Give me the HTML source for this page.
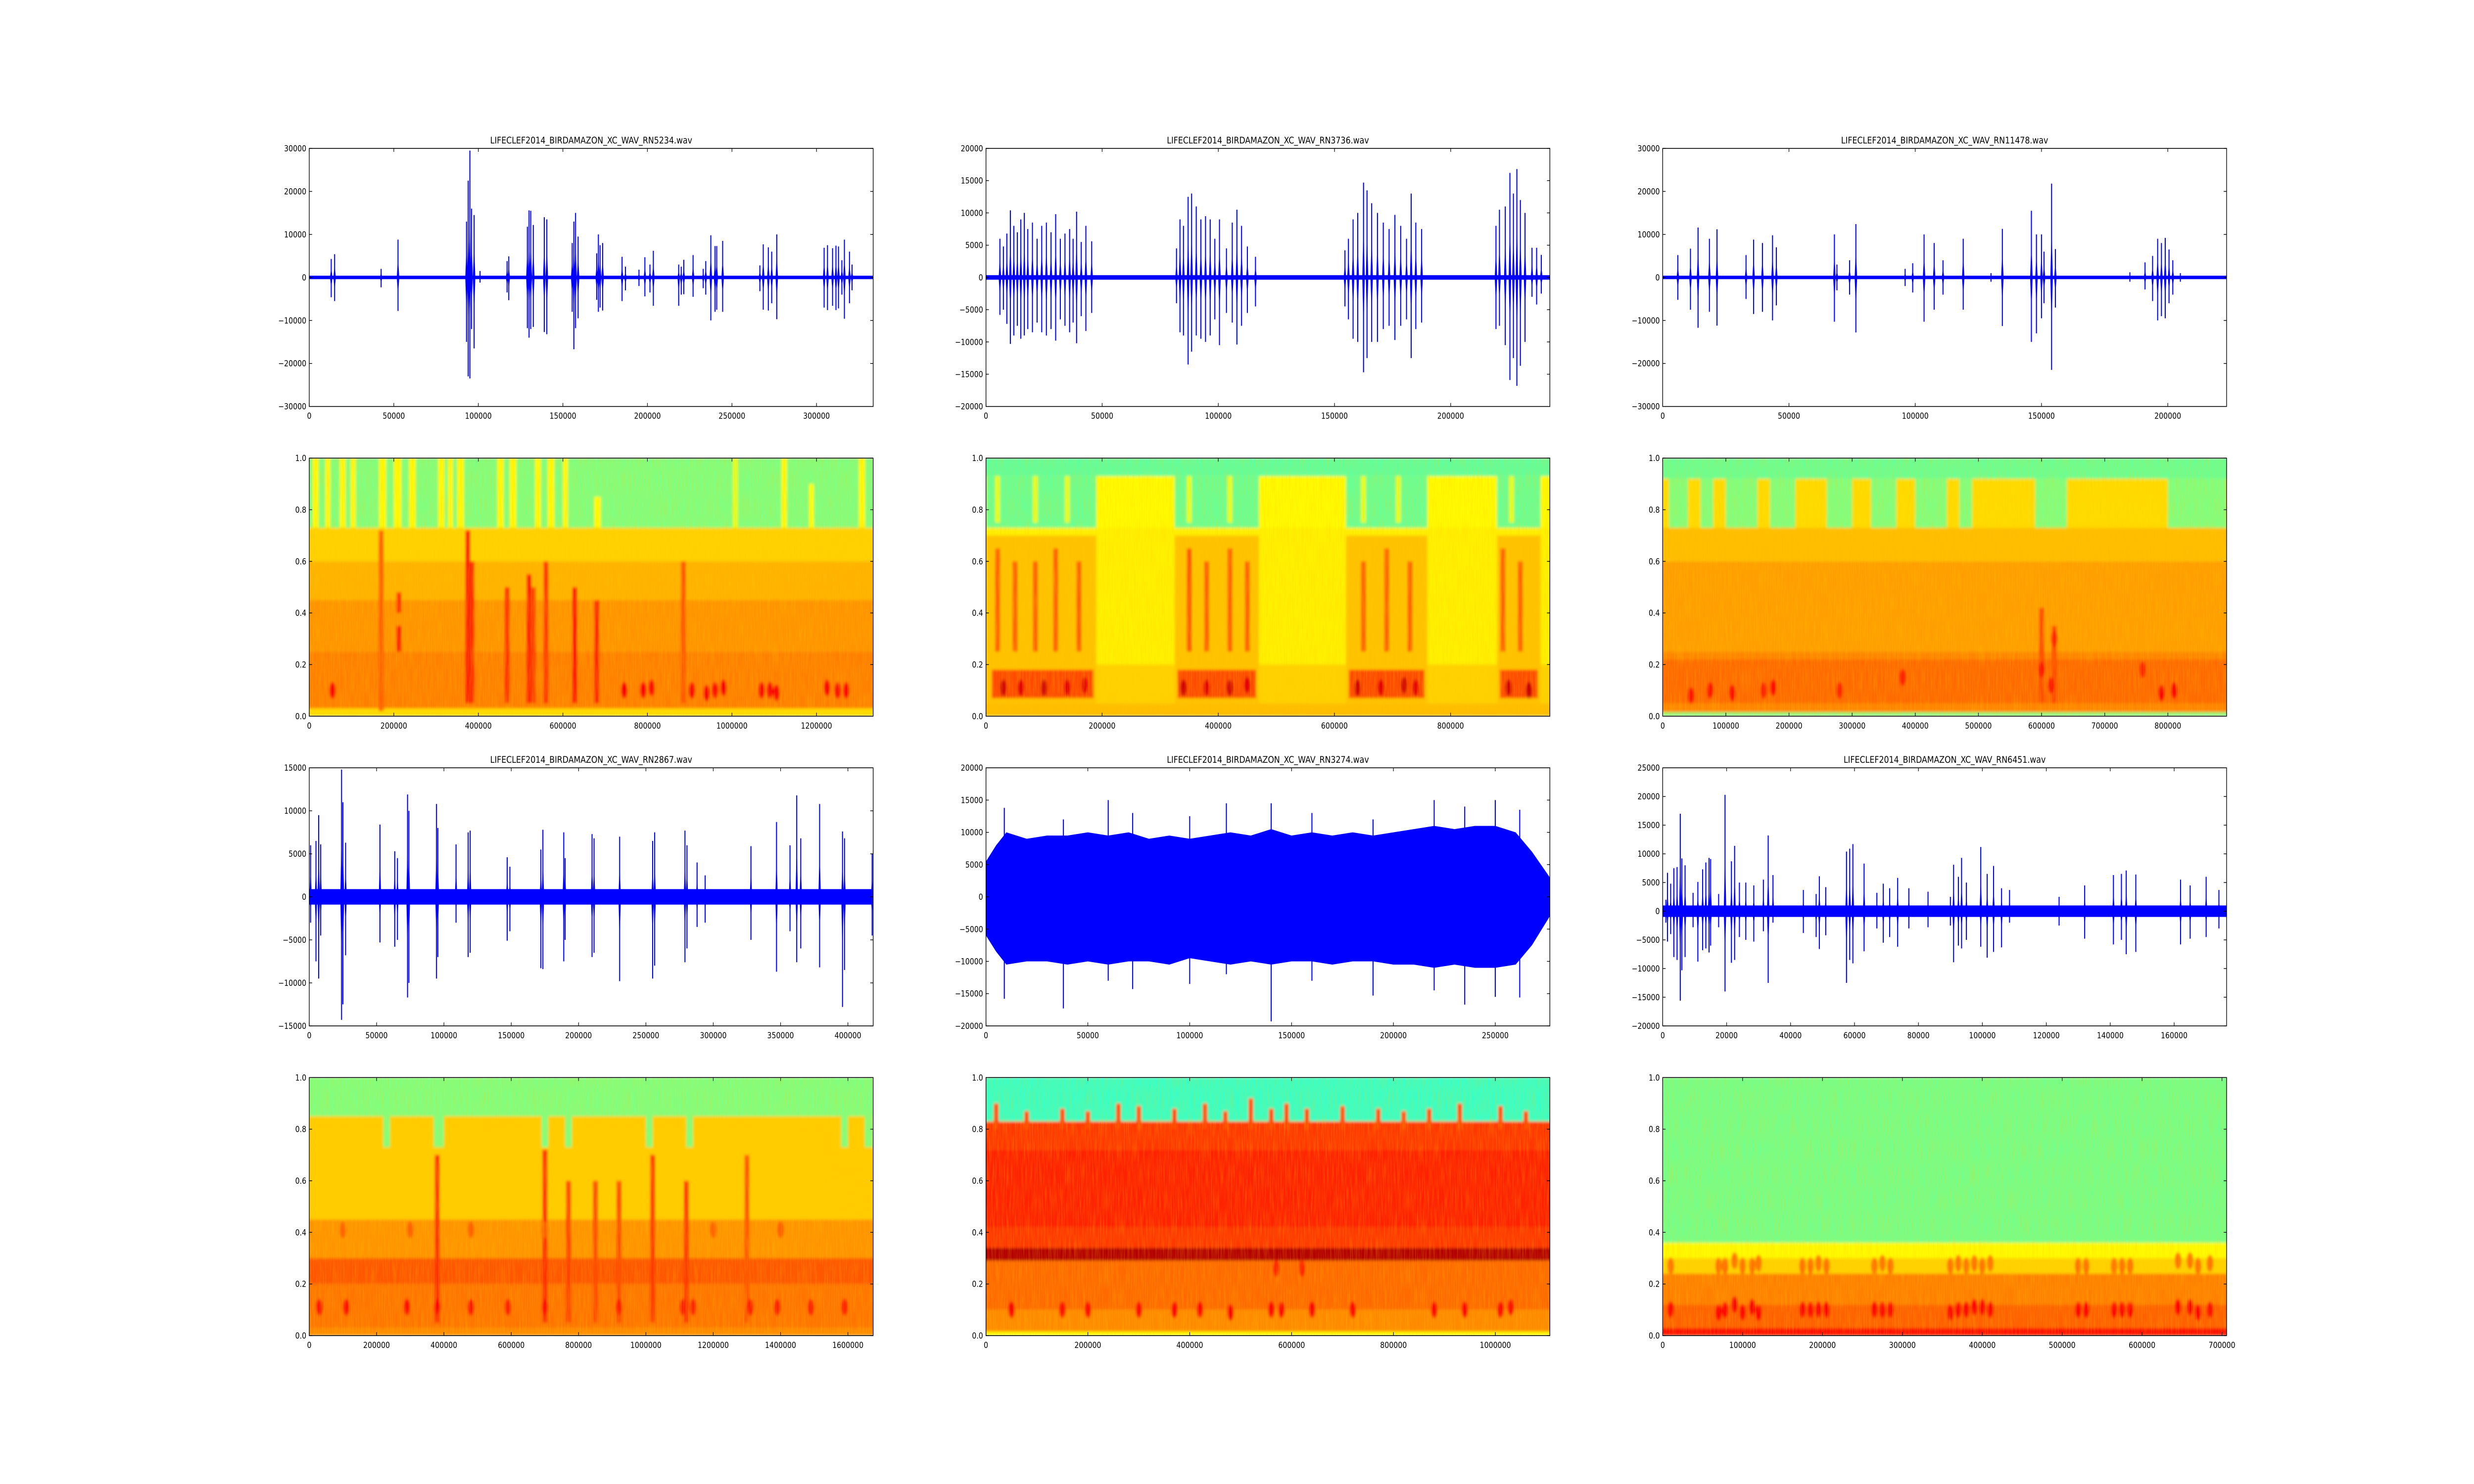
<!DOCTYPE html>
<html><head><meta charset="utf-8">
<style>
html,body{margin:0;padding:0;background:#fff;overflow:hidden;width:100%;height:100%;}
svg{display:block;width:100vw;height:100vh;}
text{font-family:"DejaVu Sans","Liberation Sans",sans-serif;fill:#000;}
</style></head>
<body>
<svg id="fig" viewBox="0 0 6000 3000" preserveAspectRatio="none" xmlns="http://www.w3.org/2000/svg">
<defs>
<filter id="soft" x="-5%" y="-5%" width="110%" height="110%"><feGaussianBlur stdDeviation="3"/></filter>
<filter id="grain" x="0" y="0" width="100%" height="100%">
<feTurbulence type="fractalNoise" baseFrequency="0.35 0.02" numOctaves="2" seed="3" result="n"/>
<feColorMatrix type="matrix" values="0 0 0 0 1  0 0 0 0 0.6  0 0 0 0 0  0 0 0 -1.2 0.75"/>
</filter>
</defs>
<rect x="0" y="0" width="6000" height="3000" fill="#fff"/>
</svg>
<script>
// ---------------- DATA ----------------
const waveTitles = ["LIFECLEF2014_BIRDAMAZON_XC_WAV_RN5234.wav","LIFECLEF2014_BIRDAMAZON_XC_WAV_RN3736.wav","LIFECLEF2014_BIRDAMAZON_XC_WAV_RN11478.wav","LIFECLEF2014_BIRDAMAZON_XC_WAV_RN2867.wav","LIFECLEF2014_BIRDAMAZON_XC_WAV_RN3274.wav","LIFECLEF2014_BIRDAMAZON_XC_WAV_RN6451.wav"];
const waveXMax = [333500, 242700, 223300, 418750, 276800, 176400];
const waveYMin = [-30000, -20000, -30000, -15000, -20000, -20000];
const waveYMax = [30000, 20000, 30000, 15000, 20000, 25000];
const waveXTicks = [
 [0,50000,100000,150000,200000,250000,300000],
 [0,50000,100000,150000,200000],
 [0,50000,100000,150000,200000],
 [0,50000,100000,150000,200000,250000,300000,350000,400000],
 [0,50000,100000,150000,200000,250000],
 [0,20000,40000,60000,80000,100000,120000,140000,160000]];
const waveYTicks = [
 [-30000,-20000,-10000,0,10000,20000,30000],
 [-20000,-15000,-10000,-5000,0,5000,10000,15000,20000],
 [-30000,-20000,-10000,0,10000,20000,30000],
 [-15000,-10000,-5000,0,5000,10000,15000],
 [-20000,-15000,-10000,-5000,0,5000,10000,15000,20000],
 [-20000,-15000,-10000,-5000,0,5000,10000,15000,20000,25000]];
const waveBase = [400, 350, 400, 900, 0, 1000];

const bursts1 = [[13000,4300,-4600],[15000,5400,-5500],[42500,2000,-2300],[52500,8800,-7800],[93000,13000,-15000],[94000,22500,-23000],[95000,29500,-23500],[96000,16000,-12000],[97500,14500,-16500],[101000,1500,-1200],[117000,3800,-3500],[118000,4900,-5300],[129000,11800,-11800],[130000,15600,-14000],[131000,15500,-12000],[132500,12200,-11500],[139000,14000,-12700],[140500,13500,-13200],[155500,8000,-8000],[156500,13000,-16700],[157500,15000,-11800],[159000,9500,-9500],[170000,5600,-5200],[171000,10000,-8000],[172000,7500,-7000],[173500,8000,-7700],[185000,4800,-5500],[187000,2500,-3000],[195000,1800,-2000],[198500,4700,-4400],[201500,3000,-3500],[203500,6200,-6600],[218500,3000,-6600],[220000,2500,-4000],[221500,4100,-3900],[227000,5200,-4500],[233000,2000,-2500],[234500,3800,-4000],[237500,9800,-10000],[240000,7300,-8000],[241000,7300,-7500],[244500,8500,-8000],[266500,2800,-3200],[268500,7700,-7500],[271500,7000,-7700],[273500,6000,-6000],[276500,10000,-9700],[304500,6900,-7000],[306500,7500,-7600],[309500,6800,-6600],[311500,7400,-7600],[313000,7200,-7200],[315000,4000,-4000],[316500,8800,-9600],[319500,6000,-6000],[321000,3000,-3000]];
const bursts2 = [[6000,6000,-5800],[7500,4800,-5000],[9000,6800,-7200],[10500,10400,-10300],[12000,8000,-9000],[13500,7000,-7500],[15000,9000,-9500],[16500,10000,-9000],[18000,7500,-8000],[20000,8500,-8500],[22000,6000,-7000],[24000,8000,-8500],[26000,8500,-9000],[28000,7000,-8000],[30000,9800,-9800],[32000,6000,-6500],[34000,6800,-7500],[36000,7500,-8500],[37500,6000,-7000],[39000,10200,-10200],[41000,5500,-6000],[43000,8000,-8300],[45500,5600,-5500],[82000,4500,-4000],[83500,9000,-8500],[85000,8000,-9000],[87000,12500,-13500],[88500,13000,-11500],[90500,11000,-9000],[92500,9000,-9500],[94500,9500,-10000],[96500,9000,-9000],[98500,6000,-6500],[100500,9000,-10500],[103500,4500,-5500],[106000,8500,-7000],[108000,10500,-10400],[110000,8000,-7500],[112500,4800,-5500],[116000,3200,-4500],[154500,4200,-4500],[156000,6000,-6500],[158000,9000,-9500],[160000,10000,-10000],[162500,14700,-14700],[164000,13500,-12500],[166000,11500,-10000],[168500,10000,-10000],[171000,8500,-8000],[173500,7500,-7500],[176000,9700,-9700],[178500,8000,-7500],[181000,6000,-6500],[183000,13000,-12500],[185000,8500,-8000],[187500,7500,-7000],[219500,8000,-8000],[221000,10500,-7500],[223500,11000,-10500],[225500,16200,-15900],[227000,13000,-12500],[228500,16800,-16800],[230000,12000,-13700],[232000,10000,-10000],[235000,4600,-3000],[237000,4600,-4200],[239000,3500,-2500]];
const bursts3 = [[6000,5200,-5200],[11000,6700,-7500],[14000,11600,-11700],[18500,9000,-8000],[21500,11200,-11200],[33000,5200,-5000],[36000,8800,-8500],[39500,8000,-8000],[43500,9800,-10000],[45000,7000,-6500],[68000,10000,-10300],[69000,3000,-3000],[74000,4000,-4000],[76500,12400,-12800],[96000,2000,-2000],[99000,3300,-3500],[103500,10000,-10300],[107500,8000,-7500],[111000,4000,-4000],[119000,9000,-7500],[130000,1000,-1000],[134500,11300,-11300],[146000,15500,-15000],[148000,10000,-13000],[150000,10000,-9500],[151000,6000,-6000],[154000,21800,-21500],[155500,6600,-7000],[185000,1200,-1000],[191000,3500,-2800],[194000,5000,-5500],[196000,9000,-10000],[197500,8000,-9000],[199000,9200,-9500],[200500,6500,-6000],[202000,4000,-4000],[205000,1000,-1000]];
const bursts4 = [[1000,6000,-3000],[5000,6500,-7500],[7000,9500,-9500],[8500,6100,-4500],[24000,14800,-14300],[25000,11000,-12500],[27000,6300,-6800],[52500,8400,-5300],[63500,5300,-5800],[65500,4500,-5000],[73000,11900,-11700],[74000,10000,-10000],[94500,10800,-9500],[95500,8000,-7000],[109000,6100,-3000],[118000,7500,-7000],[119500,7700,-6500],[147000,4600,-5100],[149000,3500,-4000],[172000,5500,-8300],[173500,7800,-8400],[189000,7500,-7500],[190000,4500,-5000],[210000,7300,-7000],[211500,6800,-6500],[230500,7000,-9800],[255000,6500,-9500],[256500,7500,-8000],[279000,7700,-7600],[280500,6000,-6000],[288000,4000,-3500],[294000,2500,-3000],[328000,5900,-5000],[347000,8700,-8700],[357000,6000,-4000],[362000,11800,-7600],[365000,6800,-6000],[379000,10800,-8200],[396000,7600,-12800],[397500,6800,-8500],[418000,5000,-4500]];
const bursts5 = [[9000,13800,-15800],[38000,12000,-17300],[60000,15000,-13000],[72000,13000,-14300],[100000,12500,-13500],[118000,14500,-12000],[140000,14500,-19300],[160000,13000,-13000],[190000,12000,-15300],[220000,15000,-14500],[235000,14000,-16700],[250000,15000,-15500],[262000,13500,-15600]];
const bursts6 = [[1000,2000,-2000],[1500,6700,-5300],[2500,4800,-4000],[3500,7500,-8000],[4500,7700,-8500],[5500,17000,-15600],[6000,9200,-10300],[7000,8000,-8000],[9500,3200,-2800],[11000,5100,-8800],[12500,7300,-6800],[13500,8500,-6500],[14500,9300,-7200],[15000,9100,-6000],[17500,3000,-2800],[19500,20300,-14000],[21500,8700,-9000],[22500,11400,-8500],[24000,5000,-4500],[26000,5000,-5000],[28500,4500,-5300],[31500,5500,-3500],[33000,13200,-12500],[34500,6300,-2000],[44000,3700,-3800],[48000,3000,-4500],[49000,6100,-6600],[51000,4200,-4200],[57500,10400,-12500],[58500,10900,-8500],[59500,11700,-9100],[63000,8300,-7000],[67000,3200,-3000],[69000,4800,-5500],[71000,4000,-4500],[73500,5800,-6200],[77000,4000,-3000],[83000,3400,-2800],[90000,2500,-2500],[91000,8100,-8900],[92500,6000,-6000],[93500,9300,-6500],[95000,5000,-5000],[99500,11200,-6200],[101500,6500,-8100],[103500,7900,-7100],[106000,4000,-6300],[108500,3700,-2000],[124000,2500,-2500],[132000,4500,-4800],[141000,6300,-5800],[143500,6500,-5000],[145000,7100,-7500],[148000,6400,-7100],[162000,5500,-5800],[165000,4500,-4800],[170000,6000,-4500],[174000,3700,-3000]];
const waveBursts = [bursts1,bursts2,bursts3,bursts4,bursts5,bursts6];

const env5X = [0,5000,10000,20000,30000,40000,50000,60000,70000,80000,90000,100000,110000,120000,130000,140000,150000,160000,170000,180000,190000,200000,210000,220000,230000,240000,250000,260000,268000,276800];
const env5Up = [5500,8000,10000,9000,9500,9500,10000,9500,10000,9000,9500,9000,9500,10000,9500,10500,9500,10000,9500,10000,9500,10000,10500,11000,10500,11000,11000,10000,7000,3000];
const env5Lo = [-6000,-8500,-10500,-10000,-10000,-10500,-10000,-10500,-10000,-10000,-10500,-9500,-10000,-10500,-10000,-10500,-10000,-10000,-10500,-10000,-10000,-10500,-10500,-11000,-10500,-11000,-11000,-10500,-7500,-3000];

const specXMax = [1334000, 971000, 893000, 1675000, 1107000, 705800];
const specXTicks = [
 [0,200000,400000,600000,800000,1000000,1200000],
 [0,200000,400000,600000,800000],
 [0,100000,200000,300000,400000,500000,600000,700000,800000],
 [0,200000,400000,600000,800000,1000000,1200000,1400000,1600000],
 [0,200000,400000,600000,800000,1000000],
 [0,100000,200000,300000,400000,500000,600000,700000]];
const specYTicks = [0,0.2,0.4,0.6,0.8,1.0];
const specYTickLabels = ["0.0","0.2","0.4","0.6","0.8","1.0"];

const specBands = [
 [[0,0.03,0.66],[0.03,0.25,0.75],[0.25,0.45,0.73],[0.45,0.6,0.7],[0.6,0.73,0.67],[0.73,1.0,0.5]],
 [[0,0.05,0.69],[0.05,0.2,0.67],[0.2,0.73,0.64],[0.73,0.93,0.63],[0.93,1,0.47]],
 [[0,0.015,0.5],[0.015,0.25,0.745],[0.25,0.6,0.72],[0.6,0.73,0.69],[0.73,0.92,0.66],[0.92,1,0.48]],
 [[0,0.03,0.74],[0.03,0.2,0.76],[0.2,0.3,0.79],[0.3,0.45,0.73],[0.45,0.85,0.675],[0.85,1,0.5]],
 [[0,0.015,0.62],[0.015,0.1,0.74],[0.1,0.29,0.77],[0.29,0.34,0.95],[0.34,0.42,0.82],[0.42,0.72,0.84],[0.72,0.83,0.82],[0.83,1,0.43]],
 [[0,0.03,0.86],[0.03,0.12,0.78],[0.12,0.24,0.75],[0.24,0.3,0.67],[0.3,0.36,0.63],[0.36,1,0.49]]];
const specPatches = [
 [[8000,22000,0.73,1,0.63],[38000,50000,0.73,1,0.63],[72000,86000,0.73,1,0.63],[98000,110000,0.73,1,0.63],[165000,182000,0.73,1,0.63],[200000,218000,0.73,1,0.63],[236000,252000,0.73,1,0.63],[305000,320000,0.73,1,0.63],[328000,340000,0.73,1,0.63],[350000,366000,0.73,1,0.63],[445000,460000,0.73,1,0.63],[474000,490000,0.73,1,0.63],[534000,548000,0.73,1,0.63],[564000,580000,0.73,1,0.63],[600000,612000,0.73,1,0.63],[674000,690000,0.73,0.85,0.63],[1002000,1014000,0.73,1,0.6],[1117000,1130000,0.73,1,0.63],[1182000,1194000,0.73,0.9,0.62],[1300000,1315000,0.73,1,0.63]],
 [[0,190000,0.73,0.93,0.48],[325000,470000,0.73,0.93,0.48],[620000,760000,0.73,0.93,0.48],[880000,955000,0.73,0.93,0.48],[0,190000,0.05,0.7,0.685],[325000,470000,0.05,0.7,0.685],[620000,760000,0.05,0.7,0.685],[880000,955000,0.05,0.7,0.685],[10000,185000,0.07,0.18,0.8],[330000,465000,0.07,0.18,0.8],[625000,755000,0.07,0.18,0.8],[885000,950000,0.07,0.18,0.8]],
 [[10000,40000,0.73,0.92,0.5],[60000,80000,0.73,0.92,0.5],[100000,150000,0.73,0.92,0.5],[170000,210000,0.73,0.92,0.5],[260000,300000,0.73,0.92,0.5],[330000,370000,0.73,0.92,0.5],[400000,450000,0.73,0.92,0.5],[470000,490000,0.73,0.92,0.5],[590000,640000,0.73,0.92,0.5],[800000,893000,0.73,0.92,0.5],[0,893000,0.05,0.22,0.77]],
 [[220000,240000,0.73,0.85,0.5],[370000,400000,0.73,0.85,0.5],[690000,710000,0.73,0.85,0.5],[760000,780000,0.73,0.85,0.5],[1000000,1020000,0.73,0.85,0.5],[1120000,1140000,0.73,0.85,0.5],[1580000,1600000,0.73,0.85,0.5],[1650000,1675000,0.73,0.85,0.5]],
 [],
 []];
const specStreaks = [
 [[375000,0.05,0.72,0.85],[385000,0.05,0.6,0.83],[468000,0.05,0.5,0.83],[520000,0.05,0.55,0.85],[530000,0.05,0.5,0.81],[560000,0.05,0.6,0.82],[628000,0.05,0.5,0.86],[680000,0.05,0.45,0.84],[885000,0.05,0.6,0.79],[212000,0.25,0.35,0.85],[212000,0.4,0.48,0.83],[170000,0.02,0.72,0.78]],
 [[20000,0.25,0.65,0.78],[50000,0.25,0.6,0.78],[85000,0.25,0.6,0.78],[120000,0.25,0.65,0.78],[160000,0.25,0.6,0.78],[350000,0.25,0.65,0.79],[380000,0.25,0.6,0.78],[420000,0.25,0.65,0.78],[450000,0.25,0.6,0.78],[650000,0.25,0.6,0.78],[690000,0.25,0.65,0.78],[730000,0.25,0.6,0.78],[890000,0.25,0.65,0.78],[920000,0.25,0.6,0.78],[20000,0.75,0.93,0.6],[85000,0.75,0.93,0.6],[140000,0.75,0.93,0.6],[350000,0.75,0.93,0.6],[420000,0.75,0.93,0.6],[650000,0.75,0.93,0.6],[710000,0.75,0.93,0.6],[905000,0.75,0.93,0.6]],
 [[600000,0.05,0.42,0.8],[620000,0.05,0.35,0.8]],
 [[380000,0.05,0.7,0.83],[700000,0.05,0.72,0.83],[770000,0.05,0.6,0.81],[850000,0.05,0.6,0.8],[920000,0.05,0.6,0.8],[1020000,0.05,0.7,0.82],[1120000,0.05,0.6,0.82],[1300000,0.05,0.7,0.79]],
 [[20000,0.8,0.9,0.8],[80000,0.8,0.87,0.8],[150000,0.8,0.88,0.8],[200000,0.8,0.87,0.8],[260000,0.8,0.9,0.8],[300000,0.8,0.89,0.8],[370000,0.8,0.88,0.8],[430000,0.8,0.9,0.8],[470000,0.8,0.87,0.8],[520000,0.8,0.92,0.8],[560000,0.8,0.88,0.8],[590000,0.8,0.9,0.8],[630000,0.8,0.88,0.8],[700000,0.8,0.89,0.8],[770000,0.8,0.88,0.8],[820000,0.8,0.87,0.8],[870000,0.8,0.88,0.8],[930000,0.8,0.9,0.8],[1010000,0.8,0.89,0.8],[1060000,0.8,0.87,0.8]],
 []];
const specBlobs = [
 [[55000,0.1,0.87],[745000,0.1,0.88],[790000,0.1,0.87],[810000,0.11,0.87],[905000,0.1,0.88],[940000,0.09,0.88],[960000,0.1,0.87],[980000,0.11,0.88],[1070000,0.1,0.88],[1090000,0.1,0.88],[1105000,0.09,0.88],[1225000,0.11,0.88],[1250000,0.1,0.88],[1270000,0.1,0.87]],
 [[30000,0.11,0.92],[60000,0.11,0.9],[100000,0.11,0.92],[140000,0.11,0.9],[170000,0.12,0.9],[340000,0.11,0.92],[380000,0.11,0.9],[420000,0.11,0.92],[450000,0.12,0.9],[640000,0.11,0.92],[680000,0.11,0.9],[720000,0.12,0.92],[740000,0.11,0.9],[900000,0.11,0.92],[935000,0.1,0.93]],
 [[45000,0.08,0.86],[75000,0.1,0.86],[110000,0.09,0.86],[160000,0.1,0.85],[175000,0.11,0.86],[280000,0.1,0.84],[380000,0.15,0.84],[600000,0.18,0.86],[615000,0.12,0.86],[620000,0.3,0.84],[760000,0.18,0.84],[790000,0.09,0.88],[810000,0.1,0.88]],
 [[30000,0.11,0.86],[110000,0.11,0.86],[290000,0.11,0.86],[380000,0.11,0.87],[480000,0.11,0.86],[590000,0.11,0.85],[700000,0.11,0.86],[920000,0.11,0.85],[1110000,0.11,0.85],[1140000,0.11,0.84],[1310000,0.11,0.85],[1390000,0.11,0.85],[1490000,0.11,0.85],[1590000,0.11,0.85],[100000,0.41,0.78],[300000,0.41,0.78],[480000,0.41,0.78],[700000,0.41,0.78],[1200000,0.41,0.78],[1400000,0.41,0.78]],
 [[50000,0.1,0.88],[150000,0.1,0.87],[200000,0.1,0.87],[300000,0.1,0.87],[370000,0.1,0.87],[420000,0.1,0.87],[480000,0.09,0.88],[560000,0.1,0.87],[580000,0.1,0.87],[640000,0.1,0.87],[720000,0.1,0.87],[880000,0.1,0.87],[940000,0.1,0.87],[1010000,0.1,0.88],[1030000,0.11,0.87],[570000,0.26,0.84],[620000,0.26,0.84]],
 [[10000,0.27,0.76],[70000,0.27,0.76],[78000,0.27,0.76],[90000,0.29,0.76],[100000,0.27,0.76],[112000,0.27,0.76],[120000,0.28,0.76],[175000,0.27,0.76],[185000,0.27,0.76],[195000,0.28,0.76],[205000,0.27,0.76],[265000,0.27,0.76],[275000,0.28,0.76],[285000,0.27,0.76],[360000,0.27,0.76],[370000,0.28,0.76],[380000,0.27,0.76],[390000,0.28,0.76],[400000,0.27,0.76],[410000,0.28,0.76],[520000,0.27,0.76],[530000,0.27,0.76],[565000,0.27,0.76],[575000,0.27,0.76],[585000,0.27,0.76],[645000,0.29,0.76],[660000,0.29,0.76],[670000,0.27,0.76],[685000,0.28,0.76],
  [10000,0.1,0.87],[70000,0.09,0.87],[78000,0.1,0.87],[90000,0.12,0.88],[100000,0.09,0.87],[112000,0.11,0.88],[120000,0.09,0.87],[175000,0.1,0.87],[185000,0.1,0.87],[195000,0.1,0.87],[205000,0.1,0.87],[265000,0.1,0.87],[275000,0.1,0.87],[285000,0.1,0.87],[360000,0.09,0.87],[370000,0.1,0.87],[380000,0.1,0.88],[390000,0.11,0.87],[400000,0.11,0.88],[410000,0.1,0.87],[520000,0.1,0.87],[530000,0.1,0.87],[565000,0.1,0.87],[575000,0.1,0.87],[585000,0.1,0.87],[645000,0.11,0.87],[660000,0.11,0.88],[670000,0.09,0.87],[685000,0.1,0.87]]];

// ---------------- LAYOUT ----------------
const NS = "http://www.w3.org/2000/svg";
const svg = document.getElementById('fig');
const colX = [[750,2117.6],[2391.2,3758.8],[4032.4,5400]];
const rowY = [[300,821.7],[926.1,1447.8],[1552.2,2073.9],[2178.3,2700]];

function mk(tag, attrs, parent){
  const e = document.createElementNS(NS, tag);
  for (const k in attrs) e.setAttribute(k, attrs[k]);
  (parent||svg).appendChild(e);
  return e;
}
function fmt(v){ return v < 0 ? "\u2212" + Math.abs(v) : String(v); }
function jet(v){
  const c = t => Math.max(0, Math.min(1, t));
  const r = c(1.5 - Math.abs(4*v-3)), g = c(1.5 - Math.abs(4*v-2)), b = c(1.5 - Math.abs(4*v-1));
  return "rgb(" + Math.round(r*255) + "," + Math.round(g*255) + "," + Math.round(b*255) + ")";
}
function makeScale(d0, d1, r0, r1){ return v => r0 + (v - d0) / (d1 - d0) * (r1 - r0); }

function drawAxes(g, x0, x1, y0, y1, sx, sy, xticks, yticks, ylabels, name){
  mk('rect', {x:x0, y:y0, width:x1-x0, height:y1-y0, fill:'none', stroke:'#000', 'stroke-width':1.6,  }, g);
  const tg = mk('g', { }, g);
  xticks.forEach(t => {
    const x = sx(t);
    mk('line', {x1:x, y1:y1, x2:x, y2:y1-7, stroke:'#000', 'stroke-width':1.4}, tg);
    mk('line', {x1:x, y1:y0, x2:x, y2:y0+7, stroke:'#000', 'stroke-width':1.4}, tg);
    const tx = mk('text', {x:x, y:y1+25, 'font-size':17, 'text-anchor':'middle'}, tg);
    
    
    tx.textContent = fmt(t);
  });
  yticks.forEach((t, i) => {
    const y = sy(t);
    mk('line', {x1:x0, y1:y, x2:x0+7, y2:y, stroke:'#000', 'stroke-width':1.4}, tg);
    mk('line', {x1:x1, y1:y, x2:x1-7, y2:y, stroke:'#000', 'stroke-width':1.4}, tg);
    const tx = mk('text', {x:x0-7, y:y+6, 'font-size':17, 'text-anchor':'end'}, tg);
    
    
    tx.textContent = ylabels ? ylabels[i] : fmt(t);
  });
}

for (let i = 0; i < 6; i++){
  const row = i < 3 ? 0 : 2, col = i % 3;
  const [x0, x1] = colX[col], [y0, y1] = rowY[row];
  const sx = makeScale(0, waveXMax[i], x0, x1);
  const sy = makeScale(waveYMin[i], waveYMax[i], y1, y0);
  const g = mk('g', { });
  const cid = 'wclip'+i;
  const cp = mk('clipPath', {id:cid}, g);
  mk('rect', {x:x0, y:y0, width:x1-x0, height:y1-y0}, cp);
  const plot = mk('g', {'clip-path':'url(#'+cid+')',  }, g);
  if (waveBase[i] > 0){
    mk('rect', {x:x0, y:sy(waveBase[i]), width:x1-x0, height:sy(-waveBase[i]) - sy(waveBase[i]), fill:'#0000ff'}, plot);
  }
  if (i === 4){
    let pts = env5X.map((x, k) => sx(x) + ',' + sy(env5Up[k]));
    pts = pts.concat(env5X.slice().reverse().map((x, k) => sx(x) + ',' + sy(env5Lo[env5X.length-1-k])));
    const p = mk('polygon', {points:pts.join(' '), fill:'#0000ff'}, plot);
    
    
  }
  const w = waveXMax[i] * 0.0022;
  waveBursts[i].forEach(b => {
    const [bx, up, lo] = b;
    const p = mk('polygon', {points:[sx(bx-w)+','+sy(0), sx(bx)+','+sy(up*0.55), sx(bx+w)+','+sy(0), sx(bx)+','+sy(lo*0.55)].join(' '), fill:'#0000ff'}, plot);
    
    
    const l = mk('line', {x1:sx(bx), y1:sy(lo), x2:sx(bx), y2:sy(up), stroke:'#0000ff', 'stroke-width':2.5}, plot);
    
    
  });
  drawAxes(g, x0, x1, y0, y1, sx, sy, waveXTicks[i], waveYTicks[i], null, 'waveform-'+(i+1));
  const t = mk('text', {x:(x0+x1)/2, y:y0-10, 'font-size':19, 'text-anchor':'middle',  }, g);
  t.textContent = waveTitles[i];
}

for (let i = 0; i < 6; i++){
  const row = i < 3 ? 1 : 3, col = i % 3;
  const [x0, x1] = colX[col], [y0, y1] = rowY[row];
  const sx = makeScale(0, specXMax[i], x0, x1);
  const sy = makeScale(0, 1, y1, y0);
  const g = mk('g', { });
  const cid = 'sclip'+i;
  const cp = mk('clipPath', {id:cid}, g);
  mk('rect', {x:x0, y:y0, width:x1-x0, height:y1-y0}, cp);
  const plot = mk('g', {'clip-path':'url(#'+cid+')',  }, g);
  const soft = mk('g', {filter:'url(#soft)'}, plot);
  specBands[i].forEach(b => {
    const r = mk('rect', {x:x0-10, y:sy(b[1]), width:x1-x0+20, height:sy(b[0])-sy(b[1]), fill:jet(b[2])}, soft);
    
    
  });
  specPatches[i].forEach(p => {
    const r = mk('rect', {x:sx(p[0]), y:sy(p[3]), width:sx(p[1])-sx(p[0]), height:sy(p[2])-sy(p[3]), fill:jet(p[4])}, soft);
    
    
  });
  specStreaks[i].forEach(s => {
    const r = mk('rect', {x:sx(s[0])-6, y:sy(s[2]), width:12, height:sy(s[1])-sy(s[2]), fill:jet(s[3])}, soft);
    
    
  });
  specBlobs[i].forEach(b => {
    const e = mk('ellipse', {cx:sx(b[0]), cy:sy(b[1]), rx:8, ry:17, fill:jet(b[2])}, soft);
    
    
  });
  mk('rect', {x:x0, y:y0, width:x1-x0, height:y1-y0, filter:'url(#grain)', opacity:0.45}, plot);
  drawAxes(g, x0, x1, y0, y1, sx, sy, specXTicks[i], specYTicks, specYTickLabels, 'spectrogram-'+(i+1));
}
</script>
</body></html>
